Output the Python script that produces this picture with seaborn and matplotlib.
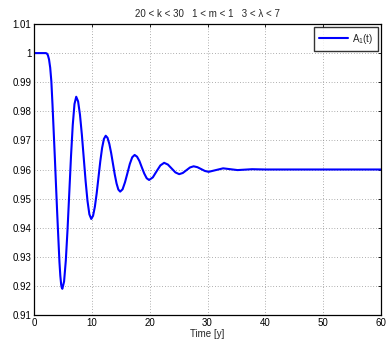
import numpy as np
import pandas as pd
import matplotlib
matplotlib.use("Agg")
import matplotlib.pyplot as plt
import seaborn as sns

# Time samples [y] and A1(t) values
time_y = [0.0, 2.0, 2.2, 2.4, 2.6, 2.8, 3.0, 3.2, 3.4, 3.6, 3.8, 4.0, 4.2, 4.4, 4.55, 4.7, 4.8, 4.9,
          5.2, 5.5, 5.8, 6.1, 6.4, 6.7, 7.0, 7.3,
          7.625, 7.95, 8.275, 8.6, 8.925, 9.25, 9.575, 9.9,
          10.2125, 10.525, 10.8375, 11.15, 11.4625, 11.775, 12.0875, 12.4,
          12.7125, 13.025, 13.3375, 13.65, 13.9625, 14.275, 14.5875, 14.9,
          15.317, 15.733, 16.15, 16.567, 16.983, 17.4,
          17.817, 18.233, 18.65, 19.067, 19.483, 19.9,
          20.55, 21.2, 21.85, 22.5,
          23.15, 23.8, 24.45, 25.1,
          25.725, 26.35, 26.975, 27.6,
          28.25, 28.9, 29.55, 30.2,
          31.45, 32.7, 33.95, 35.2, 36.45, 37.7, 40.0, 50.0, 60.0]
a1_values = [1.0, 1.0, 0.9999, 0.9993, 0.9978, 0.9950, 0.9903, 0.9822, 0.9733, 0.9643, 0.9548, 0.9455, 0.9368, 0.9282, 0.9235, 0.9204, 0.9194, 0.9190,
             0.9215, 0.9287, 0.9394, 0.9520, 0.9646, 0.9753, 0.9825, 0.9850,
             0.9834, 0.9788, 0.9720, 0.9640, 0.9560, 0.9492, 0.9446, 0.9430,
             0.9441, 0.9472, 0.9518, 0.9573, 0.9628, 0.9674, 0.9705, 0.9716,
             0.9709, 0.9688, 0.9657, 0.9620, 0.9583, 0.9552, 0.9531, 0.9524,
             0.9532, 0.9556, 0.9587, 0.9619, 0.9642, 0.9650,
             0.9644, 0.9629, 0.9607, 0.9586, 0.9570, 0.9564,
             0.9573, 0.9594, 0.9614, 0.9623,
             0.9617, 0.96035, 0.9590, 0.9584,
             0.9588, 0.95975, 0.9607, 0.9611,
             0.9608, 0.96015, 0.9595, 0.9592,
             0.9598, 0.9604, 0.9601, 0.9598, 0.95995, 0.9601, 0.9600, 0.9600, 0.9600]

x_ticks = [0, 10, 20, 30, 40, 50, 60]
y_ticks = [0.91, 0.92, 0.93, 0.94, 0.95, 0.96, 0.97, 0.98, 0.99, 1.0, 1.01]
y_tick_labels = ["0.91", "0.92", "0.93", "0.94", "0.95", "0.96", "0.97", "0.98", "0.99", "1", "1.01"]
title_text = "20 < k < 30   1 < m < 1   3 < λ < 7"
x_label = "Time [y]"
legend_label = r"A$_\mathregular{1}$(t)"

sns.set_style("white")
plt.rcParams["font.family"] = ["Liberation Sans", "DejaVu Sans"]
plt.rcParams["mathtext.fontset"] = "custom"
plt.rcParams["mathtext.rm"] = "Liberation Sans"
plt.rcParams["mathtext.default"] = "regular"

FS = 7
df = pd.DataFrame({"t": time_y, "A1": a1_values})

fig = plt.figure(figsize=(3.87, 3.44), dpi=100)
ax = fig.add_axes([34 / 387, 29 / 344, 347 / 387, 291 / 344])
sns.lineplot(data=df, x="t", y="A1", ax=ax, color="#0000ff", linewidth=1.5,
             label=legend_label, sort=False)

ax.set_xlim(0, 60)
ax.set_ylim(0.91, 1.01)
ax.set_xticks(x_ticks)
ax.set_xticklabels([str(v) for v in x_ticks])
ax.set_yticks(y_ticks)
ax.set_yticklabels(y_tick_labels)
ax.tick_params(axis="both", direction="in", length=2.5, width=0.6, labelsize=FS,
               top=True, right=True, pad=2, colors="black")
ax.grid(True, linestyle=(0, (1, 3)), color="#666666", linewidth=0.5)
for sp in ax.spines.values():
    sp.set_color("black")
    sp.set_linewidth(0.9)

ax.set_xlabel(x_label, fontsize=FS, labelpad=1)
ax.set_ylabel("")
ax.set_title(title_text, fontsize=FS, pad=5)

leg = ax.legend(loc="upper right", fontsize=FS, frameon=True, fancybox=False,
                handlelength=3.0, borderaxespad=0.3, borderpad=0.5, handletextpad=0.4)
leg.get_frame().set_edgecolor("black")
leg.get_frame().set_linewidth(1.0)

fig.savefig("out.png", dpi=100)
